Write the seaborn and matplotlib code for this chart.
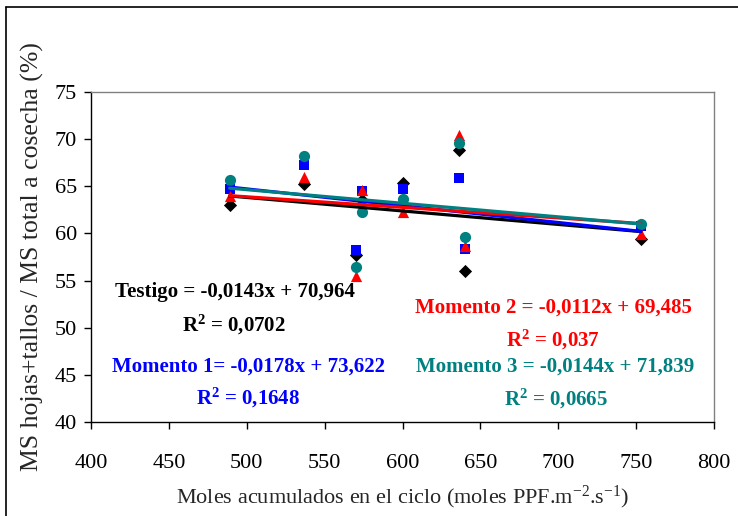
import numpy as np
import pandas as pd
import matplotlib
matplotlib.use("Agg")
import matplotlib.pyplot as plt
from matplotlib.lines import Line2D
import seaborn as sns

# Datos
moles = [489, 537, 570, 574, 600, 636, 640, 753]
testigo = [63.0, 65.2, 57.7, 63.5, 65.4, 68.9, 56.05, 59.4]
momento1 = [64.75, 67.3, 58.25, 64.5, 64.7, 65.9, 58.3, 60.8]
momento2 = [64.0, 66.0, 55.5, 64.6, 62.3, 70.4, 58.7, 59.9]
momento3 = [65.65, 68.25, 56.4, 62.3, 63.65, 69.6, 59.6, 61.0]

# Pendiente y ordenada de las lineas de tendencia
pendientes = [-0.0143, -0.0178, -0.0112, -0.0144]
ordenadas = [70.964, 73.622, 69.485, 71.839]

ecuaciones = [
    "Testigo = -0,0143x + 70,964",
    "Momento 1= -0,0178x + 73,622",
    "Momento 2 = -0,0112x + 69,485",
    "Momento 3 = -0,0144x + 71,839",
]
r2_textos = ["R$^2$ = 0,0702", "R$^2$ = 0,1648", "R$^2$ = 0,037", "R$^2$ = 0,0665"]

series = [testigo, momento1, momento2, momento3]
colores = ["black", "#0000FF", "#FF0000", "#008080"]
marcadores = ["D", "s", "^", "o"]
tamanos = [45, 55, 65, 65]

sns.set_style("white")
plt.rcParams["font.family"] = ["Liberation Serif", "DejaVu Serif"]
plt.rcParams["mathtext.fontset"] = "custom"
plt.rcParams["mathtext.rm"] = "Liberation Serif:bold"
plt.rcParams["mathtext.it"] = "Liberation Serif:bold"
plt.rcParams["mathtext.bf"] = "Liberation Serif:bold"

fig = plt.figure(figsize=(7.38, 5.16), dpi=100)
ax = fig.add_axes([91 / 738, 1 - 422 / 516, 623 / 738, 330 / 516])

# Puntos
for valores, color, marker, s in zip(series, colores, marcadores, tamanos):
    df = pd.DataFrame({"x": moles, "y": valores})
    sns.scatterplot(data=df, x="x", y="y", ax=ax, color=color, marker=marker,
                    s=s, edgecolor=color, linewidth=0, zorder=3)

# Lineas de tendencia
x_lin = np.array([min(moles), max(moles)])
for m, b, color in zip(pendientes, ordenadas, colores):
    sns.lineplot(x=x_lin, y=m * x_lin + b, ax=ax, color=color, linewidth=2.3, zorder=4)

ax.set_xlim(400, 800)
ax.set_ylim(40, 75)
ax.set_xticks(range(400, 801, 50))
ax.set_yticks(range(40, 76, 5))
ax.tick_params(direction="out", length=5, width=1, colors="black", labelsize=16,
               bottom=True, left=True)
ax.tick_params(axis="x", pad=18)
ax.tick_params(axis="y", pad=5)

for lado in ["left", "bottom"]:
    ax.spines[lado].set_color("black")
    ax.spines[lado].set_linewidth(1)
for lado in ["top", "right"]:
    ax.spines[lado].set_color("#808080")
    ax.spines[lado].set_linewidth(1)

ax.set_xlabel("Moles acumulados en el ciclo (moles PPF.m$^{\\mathregular{-2}}$.s$^{\\mathregular{-1}}$)",
              fontsize=16, labelpad=8)
ax.set_ylabel("MS hojas+tallos / MS total a cosecha (%)", fontsize=18.5, labelpad=8)

# Ecuaciones (posicion en pixeles de la figura)
pos_ec = [(235, 292), (248, 367), (553, 308), (555, 367)]
pos_r2 = [(234, 325), (248, 398), (553, 340), (556, 399)]
for texto, r2, (xe, ye), (xr, yr), color in zip(ecuaciones, r2_textos, pos_ec, pos_r2, colores):
    fig.text(xe / 738, 1 - ye / 516, texto, color=color, fontsize=15, fontweight="bold",
             ha="center", va="center")
    fig.text(xr / 738, 1 - yr / 516, r2, color=color, fontsize=15, fontweight="bold",
             ha="center", va="center")

# Marco exterior
fig.add_artist(Line2D([5.5 / 738, 5.5 / 738], [0, 1 - 7 / 516], color="black", linewidth=1.2,
                      transform=fig.transFigure))
fig.add_artist(Line2D([5.5 / 738, 1], [1 - 7 / 516, 1 - 7 / 516], color="black", linewidth=1.2,
                      transform=fig.transFigure))

fig.savefig("out.png", dpi=100)
